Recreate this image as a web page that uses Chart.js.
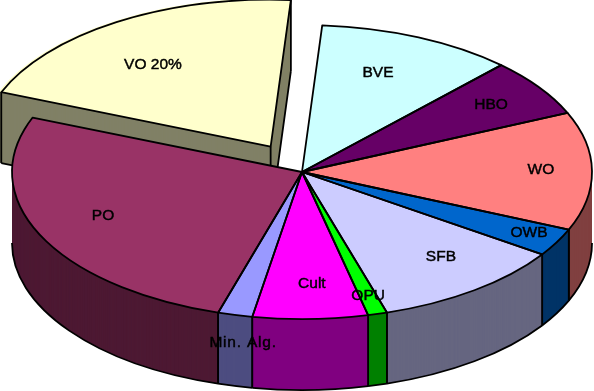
<!DOCTYPE html>
<html>
<head>
<meta charset="utf-8">
<style>html,body{margin:0;padding:0;background:#fff}canvas{display:block}</style>
<script src="https://cdn.jsdelivr.net/npm/chart.js@4/dist/chart.umd.min.js"></script>
</head>
<body>
<canvas id="c" width="594" height="391"></canvas>
<script>
const categories = ['BVE','HBO','WO','OWB','SFB','OPU','Cult','Min. Alg.','PO','VO 20%'];
const shares = [10.94,6.36,13.0,3.06,10.8,1.07,6.4,1.93,26.37,20.07];
const topColors = ['#CCFFFF','#660066','#FF8080','#0066CC','#CCCCFF','#00FF00','#FF00FF','#9999FF','#993366','#FFFFCC'];
const wallColors = ['#668080','#330033','#804040','#003366','#666680','#008000','#800080','#4D4D80','#4D1933','#808066'];
const explodedSlices = ['VO 20%'];

// presentation only: the tilted view of the pie and where each label sits
const view = {cx:302, cy:172, rx:290, ry:147, depth:71, radius:150, explode:122, rotation:4, line:1.8};
const labelSpots = [[0.262,-0.675],[0.652,-0.456],[0.824,-0.014],[0.783,0.415],[0.479,0.578],[0.228,0.844],[0.034,0.762],[-0.203,1.163],[-0.686,0.3],[-0.514,-0.728]];
const labelTracking = [0,0,0,0,0,0,0,'0.8px',0,0];

const tiltPlugin = {
  id:'tilt',
  beforeDatasetsDraw(chart){
    const ctx = chart.ctx;
    const arcs = chart.getDatasetMeta(0).data;
    const first = arcs[0];
    const R = first.outerRadius;
    const toView = (dy)=>{
      ctx.translate(view.cx, view.cy + dy);
      ctx.scale(view.rx/R, view.ry/R);
      ctx.translate(-first.x, -first.y);
    };
    const shift = (a)=>{
      const off = (a.options.offset||0)/4, mid=(a.startAngle+a.endAngle)/2;
      return {x:a.x+Math.cos(mid)*off, y:a.y+Math.sin(mid)*off};
    };
    const fillArc = (a,color,dy)=>{
      const keep = a.options;
      a.options = {backgroundColor:color,borderColor:color,borderWidth:0,offset:keep.offset,spacing:0,circular:true,borderRadius:0,borderAlign:'center'};
      ctx.save(); toView(dy); a.draw(ctx); ctx.restore();
      a.options = keep;
    };
    const strokePath = (build,dy)=>{
      ctx.save();
      ctx.beginPath();
      ctx.save(); toView(dy); build(); ctx.restore();
      ctx.lineWidth = view.line; ctx.strokeStyle = '#000'; ctx.lineJoin='round';
      ctx.stroke();
      ctx.restore();
    };
    const sector = (a,dy)=>{
      const s = shift(a);
      strokePath(()=>{
        ctx.moveTo(s.x,s.y);
        ctx.arc(s.x,s.y,R,a.startAngle,a.endAngle);
        ctx.closePath();
      },dy);
    };
    const vertical = (px,py)=>{
      ctx.save(); toView(0);
      const m = ctx.getTransform();
      ctx.restore();
      const p = m.transformPoint({x:px,y:py});
      ctx.save();
      ctx.beginPath(); ctx.moveTo(p.x,p.y); ctx.lineTo(p.x,p.y+view.depth);
      ctx.lineWidth=view.line; ctx.strokeStyle='#000'; ctx.stroke();
      ctx.restore();
    };
    const wall = (a,idx)=>{
      for(let d=view.depth;d>=1;d--) fillArc(a,wallColors[idx],d);
    };
    const isExploded = (i)=>explodedSlices.includes(categories[i]);

    // exploded slices sit behind the body of the pie
    arcs.forEach((a,i)=>{
      if(!isExploded(i)) return;
      wall(a,i);
      const s = shift(a);
      const sx = s.x+Math.cos(a.startAngle)*R, sy = s.y+Math.sin(a.startAngle)*R;
      const ex = s.x+Math.cos(a.endAngle)*R, ey = s.y+Math.sin(a.endAngle)*R;
      strokePath(()=>{ ctx.moveTo(sx,sy); ctx.lineTo(s.x,s.y); ctx.lineTo(ex,ey); },view.depth);
      vertical(s.x,s.y);
      vertical(sx,sy);
      vertical(ex,ey);
      fillArc(a,topColors[i],0);
      sector(a,0);
    });

    // walls of the body, back to front
    const order = arcs.map((a,i)=>i).filter(i=>!isExploded(i)).sort((p,q)=>{
      const dist = (k)=>Math.abs((arcs[k].startAngle+arcs[k].endAngle)/2-Math.PI/2);
      return dist(q)-dist(p);
    });
    order.forEach(i=>{
      const a = arcs[i];
      const from = Math.max(a.startAngle,0), to = Math.min(a.endAngle,Math.PI);
      if(to<=from) return;
      wall(a,i);
      strokePath(()=>{ ctx.arc(a.x,a.y,R,from,to); },view.depth);
      if(from>0) vertical(a.x+Math.cos(from)*R,a.y+Math.sin(from)*R);
      if(to<Math.PI) vertical(a.x+Math.cos(to)*R,a.y+Math.sin(to)*R);
    });

    // top faces
    arcs.forEach((a,i)=>{ if(!isExploded(i)) fillArc(a,topColors[i],0); });
    arcs.forEach((a,i)=>{ if(!isExploded(i)) sector(a,0); });

    // labels
    ctx.save();
    ctx.font = '15.5px "Liberation Sans", Arial, sans-serif';
    ctx.textAlign='center'; ctx.textBaseline='middle';
    ctx.fillStyle='#000'; ctx.strokeStyle='#000'; ctx.lineWidth=0.45;
    categories.forEach((t,i)=>{
      const x = view.cx+labelSpots[i][0]*view.rx, y = view.cy+labelSpots[i][1]*view.ry;
      ctx.letterSpacing = labelTracking[i] || '0px';
      ctx.fillText(t,x,y); ctx.strokeText(t,x,y);
    });
    ctx.restore();
    return false;
  }
};

new Chart(document.getElementById('c'),{
  type:'pie',
  data:{labels:categories,datasets:[{data:shares,backgroundColor:topColors,borderWidth:0,
    offset:(c)=>explodedSlices.includes(categories[c.dataIndex])?view.explode:0}]},
  options:{
    responsive:false,animation:false,rotation:view.rotation,radius:view.radius,
    layout:{padding:0},
    plugins:{legend:{display:false},title:{display:false},tooltip:{enabled:false}}
  },
  plugins:[tiltPlugin]
});
</script>
</body>
</html>
